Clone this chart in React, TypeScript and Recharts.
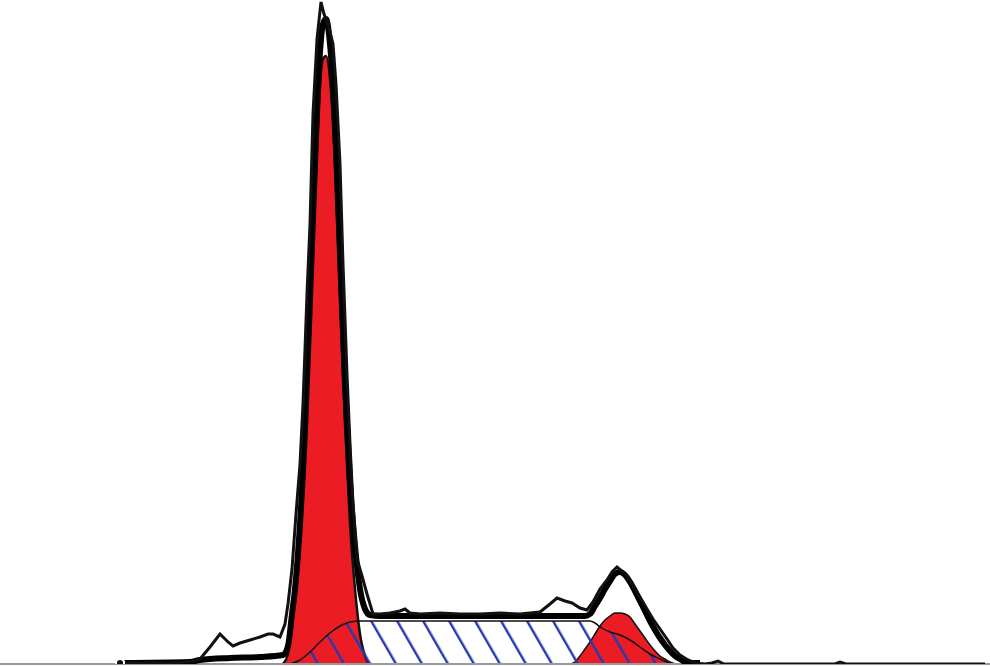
import React from "react";
import { ComposedChart, Area, Line, XAxis, YAxis, ReferenceLine } from "recharts";

// channel (x) and count (y)
const g1Channels = [283, 288, 292, 295, 300, 305, 310, 315, 320, 323, 326, 330, 335, 340, 345, 350, 355, 360, 365, 370];
const g1Counts = [0, 10, 40, 63, 125, 215, 340, 470, 580, 605, 608, 585, 500, 370, 240, 140, 75, 30, 8, 0];

const g2Channels = [570, 575, 580, 585, 590, 595, 600, 605, 610, 615, 620, 625, 630, 635, 640, 645, 650, 655, 660, 665, 670, 675];
const g2Counts = [0, 2, 8, 15, 22, 30, 38, 44, 48, 51, 51, 50, 47, 40, 33, 26, 19, 13, 8, 5, 2, 0];

const sChannels = [290, 300, 310, 320, 330, 340, 350, 360, 400, 450, 500, 550, 590, 595, 600, 610, 620, 630, 640, 650, 660, 670, 678];
const sCounts = [0, 4, 12, 22, 31, 38, 42, 43, 43, 43, 43, 43, 43, 41, 37, 32, 29, 24, 17, 10, 5, 1, 0];

const sumChannels = [120, 190, 200, 230, 260, 283, 288, 292, 295, 300, 305, 310, 315, 320, 323, 326, 330, 335, 340, 345, 350, 355, 360, 365, 370, 380, 450, 520, 585, 590, 595, 600, 605, 610, 615, 620, 625, 630, 635, 640, 645, 650, 655, 660, 665, 670, 675, 680, 685, 690, 700];
const sumCounts = [1, 2, 4, 6, 7, 9, 18, 50, 75, 140, 235, 365, 500, 612, 640, 645, 620, 540, 410, 280, 182, 118, 75, 55, 49, 48, 48, 48, 48, 50, 58, 66, 75, 83, 90, 92, 89, 82, 73, 63, 53, 43, 34, 26, 19, 13, 8, 5, 2, 1, 1];

const dataChannels = [120, 175, 185, 195, 200, 210, 220, 228, 233, 240, 250, 260, 268, 273, 280, 285, 288, 292, 296, 300, 303, 307, 310, 313, 317, 321, 324, 328, 333, 336, 340, 343, 347, 350, 353, 357, 362, 367, 373, 380, 390, 400, 405, 410, 420, 440, 460, 480, 500, 520, 540, 550, 557, 565, 572, 580, 587, 593, 600, 607, 612, 617, 622, 627, 633, 640, 647, 653, 660, 667, 673, 680, 688, 695, 705, 712, 718, 724, 760, 835, 840, 846, 900, 985];
const dataCounts = [1, 1, 2, 3, 5, 17, 30, 22, 18, 21, 24, 27, 30, 30, 27, 40, 60, 95, 150, 200, 260, 370, 440, 550, 625, 662, 650, 640, 620, 580, 500, 400, 290, 220, 160, 105, 88, 70, 50, 50, 51, 53, 55, 51, 50, 51, 50, 50, 51, 50, 52, 60, 66, 63, 61, 56, 54, 62, 75, 84, 92, 97, 93, 88, 78, 67, 55, 45, 35, 25, 16, 9, 4, 1, 0, 1, 3, 0, 0, 0, 2, 0, 0, 0];

const zip = (xs: number[], ys: number[]) => xs.map((x, i) => ({ x, y: ys[i] }));

const g1Data = zip(g1Channels, g1Counts);
const g2Data = zip(g2Channels, g2Counts);
const sData = zip(sChannels, sCounts);
const sumData = zip(sumChannels, sumCounts);
const rawData = zip(dataChannels, dataCounts);

export default function App() {
  return (
    <div style={{ position: "absolute", left: 0, top: 0, width: 990, height: 666, background: "#fff" }}>
      <ComposedChart width={990} height={666} margin={{ top: 0, right: 0, bottom: 2, left: 0 }}>
        <defs>
          <pattern id="hatch" patternUnits="userSpaceOnUse" width="22.5" height="22.5" patternTransform="rotate(-30)">
            <line x1="11" y1="0" x2="11" y2="22.5" stroke="#2838b0" strokeWidth="2.4" />
          </pattern>
        </defs>
        <XAxis type="number" dataKey="x" domain={[0, 990]} hide allowDataOverflow />
        <YAxis type="number" domain={[0, 664]} hide allowDataOverflow />
        <ReferenceLine y={0} stroke="#999" strokeWidth={2} />
        <Area data={g1Data} dataKey="y" type="monotone" fill="#ec1c24" fillOpacity={1} stroke="#111" strokeWidth={2.5} isAnimationActive={false} />
        <Area data={g2Data} dataKey="y" type="monotone" fill="#ec1c24" fillOpacity={1} stroke="#111" strokeWidth={1.5} isAnimationActive={false} />
        <Area data={sData} dataKey="y" type="monotone" fill="url(#hatch)" fillOpacity={1} stroke="#111" strokeWidth={1.5} isAnimationActive={false} />
        <Line data={sumData} dataKey="y" type="monotone" stroke="#000" strokeWidth={6} dot={false} isAnimationActive={false} />
        <Line data={rawData} dataKey="y" type="linear" stroke="#111" strokeWidth={3} dot={false} isAnimationActive={false} />
      </ComposedChart>
    </div>
  );
}
